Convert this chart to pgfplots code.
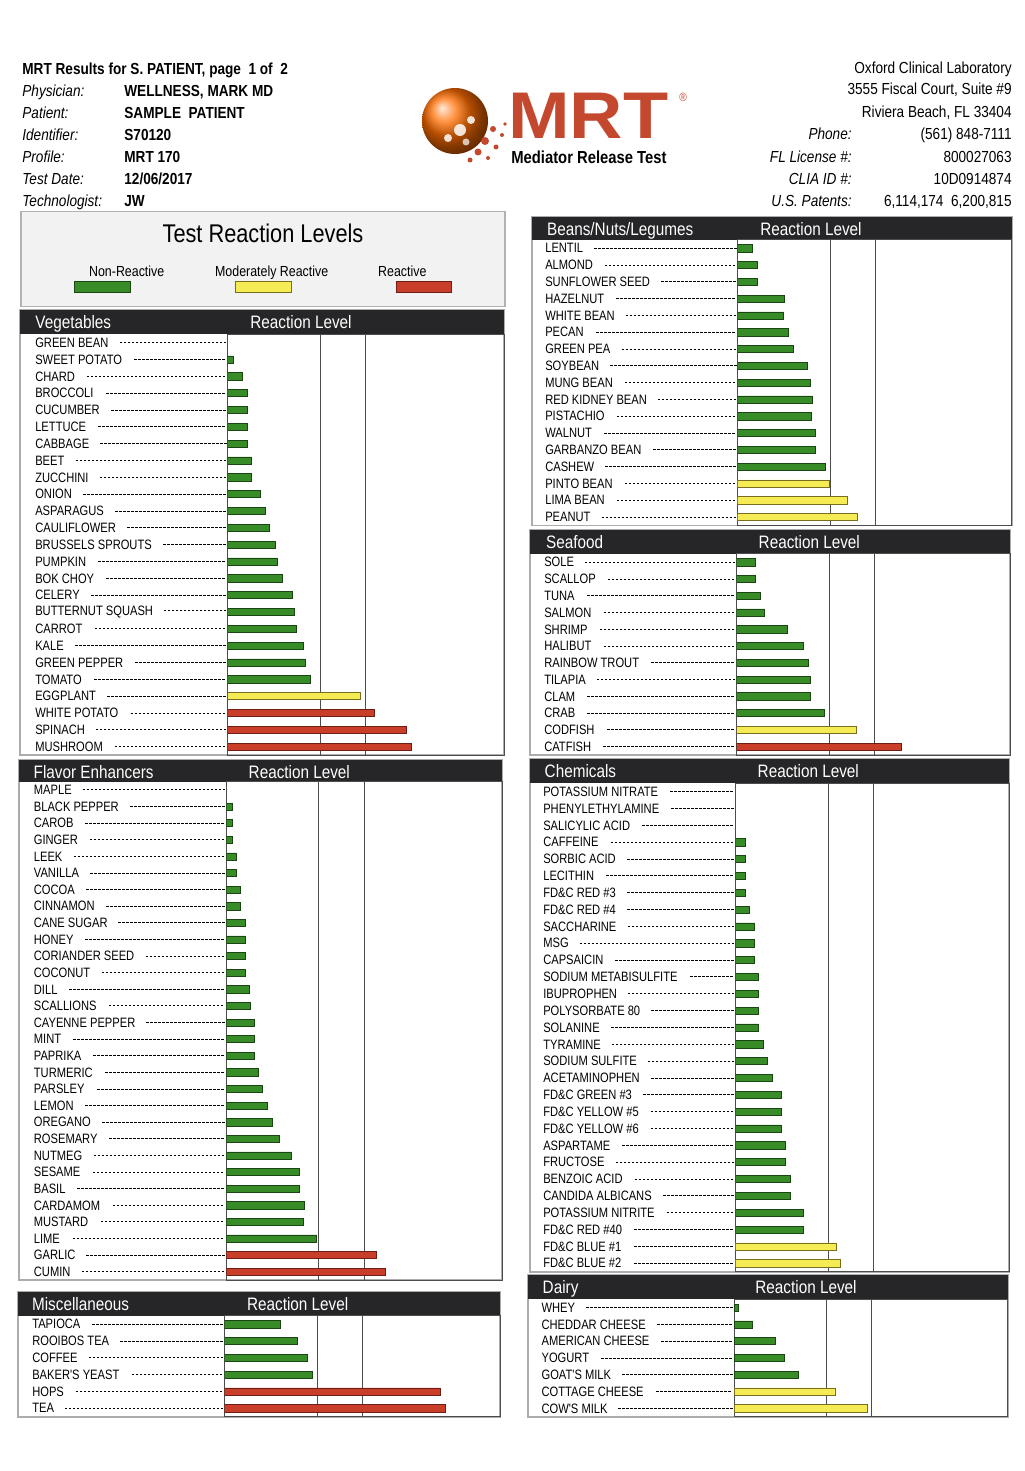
\documentclass[border=0pt]{standalone}
\usepackage{fontspec}
\setmainfont[FakeStretch=0.85]{Liberation Sans}
\newfontfamily\labfamily[FakeStretch=0.82]{Liberation Sans}
\newfontfamily\logofamily[FakeStretch=1.12]{Liberation Sans}
\usepackage{pgfplots}
\pgfplotsset{compat=1.18}
\definecolor{bgreen}{RGB}{56,140,40}
\definecolor{bgreenD}{RGB}{25,70,18}
\definecolor{byellow}{RGB}{245,236,85}
\definecolor{byellowD}{RGB}{120,110,30}
\definecolor{bred}{RGB}{200,62,40}
\definecolor{bredD}{RGB}{110,30,20}
\definecolor{hdr}{RGB}{38,38,40}
\definecolor{mrtred}{RGB}{196,72,46}
\newcommand\labfont{\labfamily\fontsize{6.8}{7}\selectfont}
\newcommand\lab[1]{\hbox to 96pt{\labfont #1\hspace{5pt}\cleaders\hbox to 2pt{\hss\rule[2.2pt]{1.3pt}{0.4pt}\hss}\hfill}}
\newcommand\hdrfont{\fontsize{9}{10}\selectfont}
\newcommand\topfont{\fontsize{8}{9}\selectfont}
\pgfplotsset{
  panel/.style={scale only axis, xbar, bar width=3.6pt, bar shift=0pt,
    xmin=0, y dir=reverse, ymin=-0.5, anchor=north west,
    axis line style={draw=black!70, line width=0.5pt},
    xtick={277,414}, xticklabels={}, xmajorgrids,
    major grid style={draw=black!70, line width=0.5pt},
    major tick length=0pt,
    yticklabel style={anchor=east, inner sep=0pt}},
  barG/.style={fill=bgreen, draw=bgreenD, line width=0.35pt},
  barY/.style={fill=byellow, draw=byellowD, line width=0.35pt},
  barR/.style={fill=bred, draw=bredD, line width=0.35pt},
}
\begin{document}
\begin{tikzpicture}
\path[use as bounding box] (0,0) rectangle (512pt,-735.5pt);
\begin{scope}[x=0.5pt,y=-0.5pt]
% ---- top-left header
\node[anchor=base west, inner sep=0, font=\topfont\bfseries] at (22,75) {MRT Results for S. PATIENT, page\ \ 1 of\ \ 2};
\node[anchor=base west, inner sep=0, font=\topfont\itshape] at (22,97) {Physician:};
\node[anchor=base west, inner sep=0, font=\topfont\itshape] at (22,119) {Patient:};
\node[anchor=base west, inner sep=0, font=\topfont\itshape] at (22,141) {Identifier:};
\node[anchor=base west, inner sep=0, font=\topfont\itshape] at (22,162.5) {Profile:};
\node[anchor=base west, inner sep=0, font=\topfont\itshape] at (22,185) {Test Date:};
\node[anchor=base west, inner sep=0, font=\topfont\itshape] at (22,206) {Technologist:};
\node[anchor=base west, inner sep=0, font=\topfont\bfseries] at (124,97) {WELLNESS, MARK MD};
\node[anchor=base west, inner sep=0, font=\topfont\bfseries] at (124,119) {SAMPLE\ \ PATIENT};
\node[anchor=base west, inner sep=0, font=\topfont\bfseries] at (124,141) {S70120};
\node[anchor=base west, inner sep=0, font=\topfont\bfseries] at (124,162.5) {MRT 170};
\node[anchor=base west, inner sep=0, font=\topfont\bfseries] at (124,185) {12/06/2017};
\node[anchor=base west, inner sep=0, font=\topfont\bfseries] at (124,206) {JW};
% ---- top-right header
\node[anchor=base east, inner sep=0, font=\topfont] at (1012,73.3) {Oxford Clinical Laboratory};
\node[anchor=base east, inner sep=0, font=\topfont] at (1012,95) {3555 Fiscal Court, Suite \#9};
\node[anchor=base east, inner sep=0, font=\topfont] at (1012,117.7) {Riviera Beach, FL 33404};
\node[anchor=base east, inner sep=0, font=\topfont\itshape] at (852,140) {Phone:};
\node[anchor=base east, inner sep=0, font=\topfont\itshape] at (852,162.3) {FL License \#:};
\node[anchor=base east, inner sep=0, font=\topfont\itshape] at (852,184.3) {CLIA ID \#:};
\node[anchor=base east, inner sep=0, font=\topfont\itshape] at (852,206.7) {U.S. Patents:};
\node[anchor=base east, inner sep=0, font=\topfont] at (1012,140) {(561) 848-7111};
\node[anchor=base east, inner sep=0, font=\topfont] at (1012,162.3) {800027063};
\node[anchor=base east, inner sep=0, font=\topfont] at (1012,184.3) {10D0914874};
\node[anchor=base east, inner sep=0, font=\topfont] at (1012,206.7) {6,114,174\ \ 6,200,815};
% ---- logo
\shade[ball color=orange!85!red] (455,121) circle (33);
\fill[white,opacity=0.85] (460,130) circle (6);
\fill[white,opacity=0.85] (471,120) circle (4);
\fill[white,opacity=0.85] (448,138) circle (4);
\fill[white,opacity=0.7] (466,142) circle (3.5);
\fill[mrtred] (485,141) circle (4);
\fill[mrtred] (493,129) circle (3);
\fill[mrtred] (478,152) circle (3.5);
\fill[mrtred] (496,147) circle (2.5);
\fill[mrtred] (502,135) circle (2);
\fill[mrtred] (470,160) circle (2.5);
\fill[mrtred] (488,158) circle (2);
\fill[mrtred] (505,124) circle (1.8);
\node[anchor=base west, inner sep=0, text=mrtred, font=\logofamily\bfseries\fontsize{33}{33}\selectfont] at (508,138.3) {MRT};
\node[anchor=center, inner sep=0, text=mrtred, font=\fontsize{6}{6}\selectfont] at (683,97) {\textregistered};
\node[anchor=base west, inner sep=0, font=\fontsize{8.7}{9}\selectfont\bfseries] at (511,164) {Mediator Release Test};
% ---- legend box
\draw[gray!60, fill=gray!10, line width=0.7pt] (21,211.7) rectangle (505,306.7);
\node[anchor=base, inner sep=0, font=\fontsize{12.8}{13}\selectfont] at (263,242.3) {Test Reaction Levels};
\node[anchor=base, inner sep=0, font=\fontsize{7.3}{8}\selectfont] at (126.7,276.7) {Non-Reactive};
\node[anchor=base, inner sep=0, font=\fontsize{7.3}{8}\selectfont] at (271.7,276.7) {Moderately Reactive};
\node[anchor=base, inner sep=0, font=\fontsize{7.3}{8}\selectfont] at (402.3,276.7) {Reactive};
\draw[fill=bgreen, draw=bgreenD, line width=0.4pt] (74,281) rectangle (130,292.7);
\draw[fill=byellow, draw=byellowD, line width=0.4pt] (235,281) rectangle (291,292.7);
\draw[fill=bred, draw=bredD, line width=0.4pt] (396,281) rectangle (451.7,292.7);
% ---- panel frames and headers
\foreach \l/\t/\r/\h/\b/\nx/\rx/\name in {
  20/310/504.3/334.3/755.1/35/250/Vegetables,
  19/760/502.3/781.7/1280/33.3/248.3/Flavor Enhancers,
  18.3/1291.7/500/1315.9/1416.7/31.7/246.7/Miscellaneous,
  531.7/216.7/1011.7/239.9/525.5/546.7/760/Beans\slash Nuts\slash Legumes,
  530/530/1010.3/553.9/755/545.7/758.3/Seafood,
  530/759/1009/783.3/1271.7/544.3/757.3/Chemicals,
  527.7/1275/1007.7/1299.3/1416.7/542.3/755/Dairy}{
  \draw[gray!65, line width=0.9pt] (\l,\t) rectangle (\r,\b);
  \fill[hdr] (\l,\t) rectangle (\r,\h);
  \node[anchor=base west, inner sep=0, text=white, font=\hdrfont] at (\nx,\t+18.5) {\name};
  \node[anchor=base west, inner sep=0, text=white, font=\hdrfont] at (\rx,\t+18.5) {Reaction Level};
}
\end{scope}

% ===== Vegetables
\begin{axis}[panel, at={(113.85pt,-167.15pt)}, width=138.3pt, height=210.4pt,
  xmax=830, ymax=24.5, ytick={0,...,24},
  yticklabels={\lab{GREEN BEAN},\lab{SWEET POTATO},\lab{CHARD},\lab{BROCCOLI},\lab{CUCUMBER},\lab{LETTUCE},\lab{CABBAGE},\lab{BEET},\lab{ZUCCHINI},\lab{ONION},\lab{ASPARAGUS},\lab{CAULIFLOWER},\lab{BRUSSELS SPROUTS},\lab{PUMPKIN},\lab{BOK CHOY},\lab{CELERY},\lab{BUTTERNUT SQUASH},\lab{CARROT},\lab{KALE},\lab{GREEN PEPPER},\lab{TOMATO},\lab{EGGPLANT},\lab{WHITE POTATO},\lab{SPINACH},\lab{MUSHROOM}}]
\addplot[barG] coordinates {(17,1) (45,2) (58,3) (58,4) (58,5) (58,6) (71,7) (71,8) (98,9) (112,10) (126,11) (143,12) (148,13) (165,14) (193,15) (200,16) (207,17) (226,18) (234,19) (248,20)};
\addplot[barY] coordinates {(399,21)};
\addplot[barR] coordinates {(441,22) (536,23) (550,24)};
\end{axis}

% ===== Flavor Enhancers
\begin{axis}[panel, at={(113.15pt,-390.85pt)}, width=138pt, height=249.2pt,
  xmax=828, ymax=29.5, ytick={0,...,29},
  yticklabels={\lab{MAPLE},\lab{BLACK PEPPER},\lab{CAROB},\lab{GINGER},\lab{LEEK},\lab{VANILLA},\lab{COCOA},\lab{CINNAMON},\lab{CANE SUGAR},\lab{HONEY},\lab{CORIANDER SEED},\lab{COCONUT},\lab{DILL},\lab{SCALLIONS},\lab{CAYENNE PEPPER},\lab{MINT},\lab{PAPRIKA},\lab{TURMERIC},\lab{PARSLEY},\lab{LEMON},\lab{OREGANO},\lab{ROSEMARY},\lab{NUTMEG},\lab{SESAME},\lab{BASIL},\lab{CARDAMOM},\lab{MUSTARD},\lab{LIME},\lab{GARLIC},\lab{CUMIN}}]
\addplot[barG] coordinates {(17,1) (17,2) (17,3) (29,4) (29,5) (43,6) (43,7) (56,8) (56,9) (56,10) (56,11) (69,12) (71,13) (83,14) (83,15) (83,16) (95,17) (109,18) (123,19) (137,20) (158,21) (195,22) (219,23) (219,24) (233,25) (232,26) (271,27)};
\addplot[barR] coordinates {(451,28) (478,29)};
\end{axis}

% ===== Miscellaneous
\begin{axis}[panel, at={(112.35pt,-657.95pt)}, width=137.7pt, height=50.4pt,
  xmax=826, ymax=5.5, ytick={0,...,5},
  yticklabels={\lab{TAPIOCA},\lab{ROOIBOS TEA},\lab{COFFEE},\lab{BAKER'S YEAST},\lab{HOPS},\lab{TEA}}]
\addplot[barG] coordinates {(167,0) (217,1) (249,2) (262,3)};
\addplot[barR] coordinates {(647,4) (661,5)};
\end{axis}

% ===== Beans/Nuts/Legumes
\begin{axis}[panel, at={(368.85pt,-119.95pt)}, width=137pt, height=142.8pt,
  xmax=822, ymax=16.5, ytick={0,...,16},
  yticklabels={\lab{LENTIL},\lab{ALMOND},\lab{SUNFLOWER SEED},\lab{HAZELNUT},\lab{WHITE BEAN},\lab{PECAN},\lab{GREEN PEA},\lab{SOYBEAN},\lab{MUNG BEAN},\lab{RED KIDNEY BEAN},\lab{PISTACHIO},\lab{WALNUT},\lab{GARBANZO BEAN},\lab{CASHEW},\lab{PINTO BEAN},\lab{LIMA BEAN},\lab{PEANUT}}]
\addplot[barG] coordinates {(44,0) (58,1) (58,2) (139,3) (138,4) (153,5) (167,6) (209,7) (217,8) (224,9) (221,10) (234,11) (234,12) (262,13)};
\addplot[barY] coordinates {(274,14) (330,15) (358,16)};
\end{axis}

% ===== Seafood
\begin{axis}[panel, at={(368.35pt,-276.95pt)}, width=137pt, height=100.6pt,
  xmax=822, ymax=11.5, ytick={0,...,11},
  yticklabels={\lab{SOLE},\lab{SCALLOP},\lab{TUNA},\lab{SALMON},\lab{SHRIMP},\lab{HALIBUT},\lab{RAINBOW TROUT},\lab{TILAPIA},\lab{CLAM},\lab{CRAB},\lab{CODFISH},\lab{CATFISH}}]
\addplot[barG] coordinates {(57,0) (57,1) (70,2) (84,3) (153,4) (201,5) (214,6) (221,7) (221,8) (263,9)};
\addplot[barY] coordinates {(360,10)};
\addplot[barR] coordinates {(495,11)};
\end{axis}

% ===== Chemicals
\begin{axis}[panel, at={(367.85pt,-391.65pt)}, width=136.7pt, height=244.2pt,
  xmax=820, ymax=28.5, ytick={0,...,28},
  yticklabels={\lab{POTASSIUM NITRATE},\lab{PHENYLETHYLAMINE},\lab{SALICYLIC ACID},\lab{CAFFEINE},\lab{SORBIC ACID},\lab{LECITHIN},\lab{FD\&C RED \#3},\lab{FD\&C RED \#4},\lab{SACCHARINE},\lab{MSG},\lab{CAPSAICIN},\lab{SODIUM METABISULFITE},\lab{IBUPROPHEN},\lab{POLYSORBATE 80},\lab{SOLANINE},\lab{TYRAMINE},\lab{SODIUM SULFITE},\lab{ACETAMINOPHEN},\lab{FD\&C GREEN \#3},\lab{FD\&C YELLOW \#5},\lab{FD\&C YELLOW \#6},\lab{ASPARTAME},\lab{FRUCTOSE},\lab{BENZOIC ACID},\lab{CANDIDA ALBICANS},\lab{POTASSIUM NITRITE},\lab{FD\&C RED \#40},\lab{FD\&C BLUE \#1},\lab{FD\&C BLUE \#2}}]
\addplot[barG] coordinates {(28,3) (28,4) (28,5) (28,6) (42,7) (56,8) (56,9) (56,10) (69,11) (69,12) (69,13) (69,14) (82,15) (95,16) (109,17) (136,18) (136,19) (136,20) (150,21) (150,22) (163,23) (163,24) (204,25) (204,26)};
\addplot[barY] coordinates {(301,27) (314,28)};
\end{axis}

% ===== Dairy
\begin{axis}[panel, at={(367pt,-649.65pt)}, width=136.8pt, height=58.7pt,
  xmax=821, ymax=6.5, ytick={0,...,6},
  yticklabels={\lab{WHEY},\lab{CHEDDAR CHEESE},\lab{AMERICAN CHEESE},\lab{YOGURT},\lab{GOAT'S MILK},\lab{COTTAGE CHEESE},\lab{COW'S MILK}}]
\addplot[barG] coordinates {(14,0) (56,1) (125,2) (151,3) (193,4)};
\addplot[barY] coordinates {(305,5) (400,6)};
\end{axis}
\end{tikzpicture}
\end{document}
